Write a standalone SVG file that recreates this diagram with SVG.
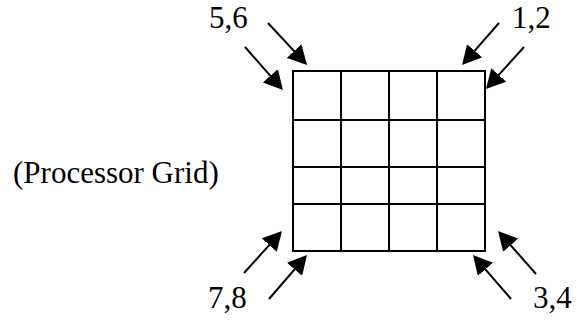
<svg xmlns="http://www.w3.org/2000/svg" width="581" height="320" viewBox="0 0 581 320">
<style>
text{font-family:'Liberation Serif','Times New Roman',Times,'DejaVu Serif',serif;font-size:31px;fill:#000}
.grid{fill:none;stroke:#000;stroke-width:2}
.arr{fill:none;stroke:#000;stroke-width:2;marker-end:url(#ah)}
</style>
<defs>
<marker id="ah" markerUnits="userSpaceOnUse" viewBox="0 0 19 20" refX="10" refY="10" markerWidth="19" markerHeight="20" orient="auto">
<path d="M0,0 L19,10 L0,20 Z" fill="#000"/>
</marker>
</defs>
<rect width="581" height="320" fill="#fff"/>
<g id="processor-grid">
<rect class="grid" x="293" y="71" width="192" height="180"/>
<path class="grid" d="M341,71V251M389,71V251M437,71V251M293,120H485M293,167H485M293,204H485"/>
</g>
<g id="label-grid"><text x="13" y="183" font-family="Liberation Serif, serif">(Processor Grid)</text></g>
<g id="label-56"><text x="209" y="28" font-family="Liberation Serif, serif">5,6</text></g>
<g id="label-12"><text x="512" y="28" font-family="Liberation Serif, serif">1,2</text></g>
<g id="label-78"><text x="208" y="308" font-family="Liberation Serif, serif">7,8</text></g>
<g id="label-34"><text x="533" y="308" font-family="Liberation Serif, serif">3,4</text></g>
<g id="connectors">
<line class="arr" x1="268" y1="23" x2="300.9" y2="58.4"/>
<line class="arr" x1="245" y1="47" x2="277" y2="83.3"/>
<line class="arr" x1="499" y1="23" x2="468" y2="58.3"/>
<line class="arr" x1="524" y1="47" x2="492" y2="82.4"/>
<line class="arr" x1="244" y1="273" x2="276" y2="237.6"/>
<line class="arr" x1="269" y1="299" x2="301.1" y2="261.8"/>
<line class="arr" x1="536" y1="274" x2="504" y2="237.7"/>
<line class="arr" x1="511" y1="299" x2="478.9" y2="261.8"/>
</g>
</svg>
